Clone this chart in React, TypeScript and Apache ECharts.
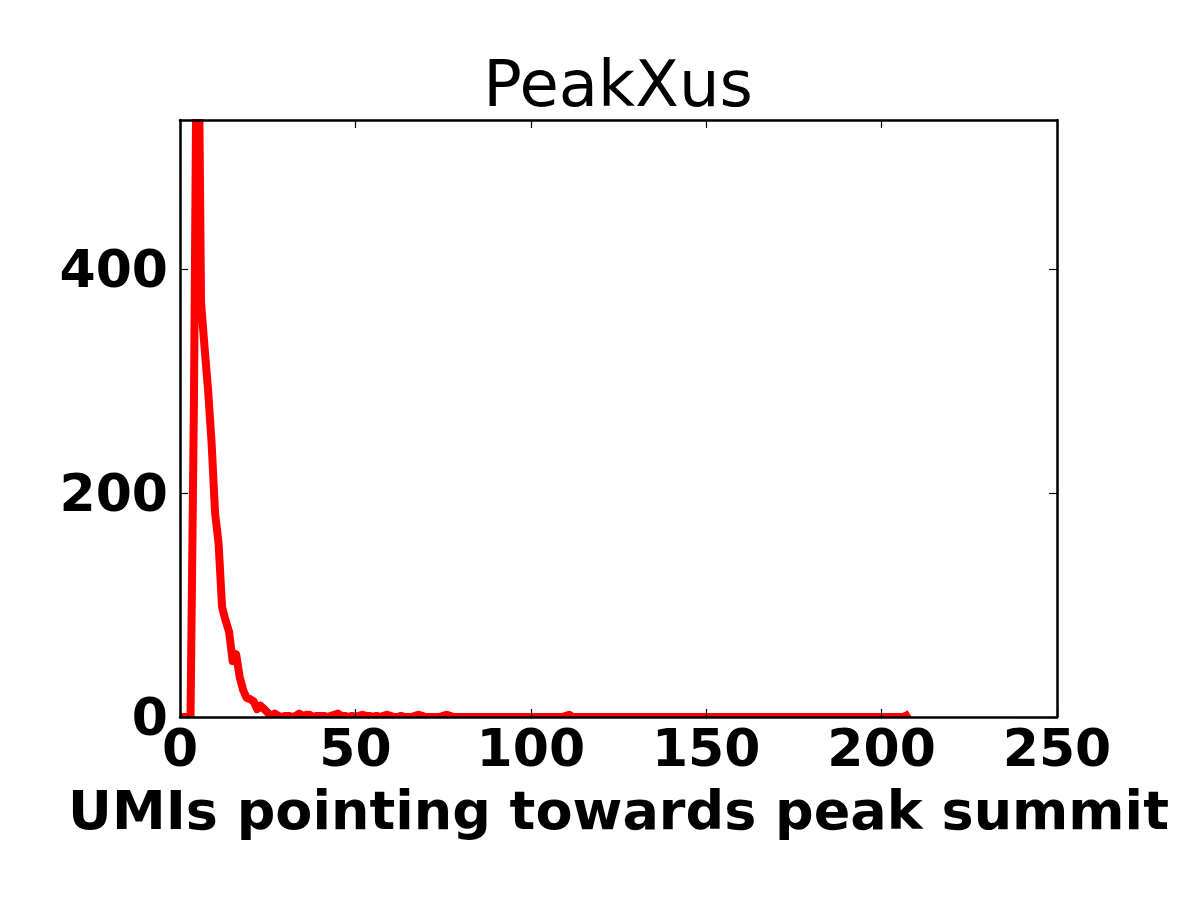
import { useEffect, useRef } from 'react';
import * as echarts from 'echarts';

// counts per UMI distance bin (x = bin index 0..208)
const umiCounts = [
  0, 0, 0, 0, 290, 720, 370, 330, 292, 245,
  182, 155, 98, 86, 76, 50, 56, 36, 24, 17,
  16, 14, 7, 10, 7, 4, 1, 3, 1, 0,
  1, 1, 0, 1, 3, 1, 2, 2, 0, 1,
  1, 1, 0, 1, 2, 3, 1, 1, 0, 1,
  0, 1, 2, 1, 1, 0, 1, 0, 1, 2,
  1, 0, 0, 1, 0, 0, 0, 1, 2, 1,
  0, 0, 0, 0, 0, 1, 2, 1, 0, 0,
  0, 0, 0, 0, 0, 0, 0, 0, 0, 0,
  0, 0, 0, 0, 0, 0, 0, 0, 0, 0,
  0, 0, 0, 0, 0, 0, 0, 0, 0, 0,
  1, 2, 0, 0, 0, 0, 0, 0, 0, 0,
  0, 0, 0, 0, 0, 0, 0, 0, 0, 0,
  0, 0, 0, 0, 0, 0, 0, 0, 0, 0,
  0, 0, 0, 0, 0, 0, 0, 0, 0, 0,
  0, 0, 0, 0, 0, 0, 0, 0, 0, 0,
  0, 0, 0, 0, 0, 0, 0, 0, 0, 0,
  0, 0, 0, 0, 0, 0, 0, 0, 0, 0,
  0, 0, 0, 0, 0, 0, 0, 0, 0, 0,
  0, 0, 0, 0, 0, 0, 0, 0, 0, 0,
  0, 0, 0, 0, 0, 0, 0, 1, 3,
];
const xTicks = [0, 50, 100, 150, 200, 250];
const yTicks = [0, 200, 400];

const FONT = 'DejaVu Sans';

export default function App() {
  const chartRef = useRef<HTMLDivElement>(null);

  useEffect(() => {
    if (!chartRef.current) return;
    const chart = echarts.init(chartRef.current, null, { renderer: 'svg' });

    const frameLine = { show: true, onZero: false, lineStyle: { color: '#000', width: 2.5 } };
    const tick = { show: true, inside: true, length: 8, lineStyle: { color: '#000', width: 1.2 } };
    // white masks so the thick line is cut at the frame, like matplotlib's clipping
    const mask = (x: number, y: number, w: number, h: number) => ({
      type: 'rect' as const,
      z: 5,
      shape: { x, y, width: w, height: h },
      style: { fill: '#fff' },
      silent: true,
    });

    const option: echarts.EChartsOption = {
      animation: false,
      backgroundColor: '#fff',
      graphic: [
        mask(170, 718, 900, 7),
        mask(165, 100, 14, 625),
        mask(170, 108, 900, 11),
        {
          type: 'text',
          x: 618,
          y: 52,
          z: 6,
          style: {
            text: 'PeakXus',
            fill: '#000',
            font: `normal 64px "${FONT}"`,
            textAlign: 'center',
            textVerticalAlign: 'top',
          },
        },
      ],
      grid: { left: 180, right: 143, top: 120, bottom: 183 },
      xAxis: [
        {
          type: 'value',
          min: 0,
          max: 250,
          interval: 50,
          position: 'bottom',
          z: 10,
          name: 'UMIs pointing towards peak summit',
          nameLocation: 'middle',
          nameGap: 66,
          nameTextStyle: { fontFamily: FONT, fontWeight: 'bold', fontSize: 54, color: '#000' },
          axisLine: frameLine,
          axisTick: { ...tick, customValues: xTicks },
          axisLabel: {
            customValues: xTicks,
            margin: 5,
            fontFamily: FONT,
            fontWeight: 'bold',
            fontSize: 52,
            color: '#000',
          },
          splitLine: { show: false },
        },
        {
          type: 'value',
          min: 0,
          max: 250,
          interval: 50,
          position: 'top',
          z: 10,
          axisLine: frameLine,
          axisTick: { ...tick, customValues: xTicks },
          axisLabel: { show: false },
          splitLine: { show: false },
        },
      ],
      yAxis: [
        {
          type: 'value',
          min: 0,
          max: 533,
          position: 'left',
          z: 10,
          axisLine: frameLine,
          axisTick: { ...tick, customValues: yTicks },
          axisLabel: {
            customValues: yTicks,
            margin: 12,
            fontFamily: FONT,
            fontWeight: 'bold',
            fontSize: 52,
            color: '#000',
          },
          splitLine: { show: false },
        },
        {
          type: 'value',
          min: 0,
          max: 533,
          position: 'right',
          z: 10,
          axisLine: frameLine,
          axisTick: { ...tick, customValues: yTicks },
          axisLabel: { show: false },
          splitLine: { show: false },
        },
      ],
      series: [
        {
          type: 'line',
          data: umiCounts.map((v, i) => [i, v]),
          showSymbol: false,
          symbol: 'none',
          clip: true,
          lineStyle: { color: '#ff0000', width: 8, join: 'round', cap: 'butt' },
          z: 2,
        },
      ],
    };

    chart.setOption(option);
    return () => chart.dispose();
  }, []);

  return (
    <div
      ref={chartRef}
      style={{ position: 'fixed', left: 0, top: 0, width: 1200, height: 900, background: '#fff' }}
    />
  );
}
